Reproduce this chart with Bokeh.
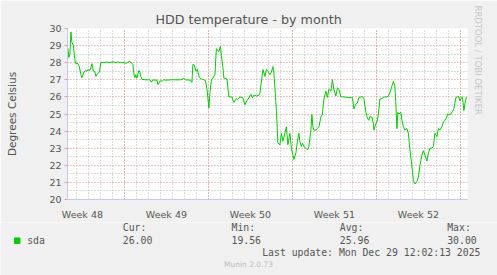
from bokeh.plotting import figure
from bokeh.layouts import column
from bokeh.models import Range1d, FixedTicker, Label, Title
from bokeh.embed import file_html
from bokeh.resources import INLINE

# ---- data: hours relative to Mon 2025-12-01 00:00, temperature in deg C ----
hours = [-113, -111, -109, -107, -105, -102, -100, -98, -93, -90, -87, -85,
         -81, -77, -75, -73, -69, -67, -65, -62, -59, -57, -54, -50, -47,
         -41, -35, -31, -21, -17, -13, -9, 0, 3, 7, 10, 14, 17, 19, 21, 23,
         25, 29, 31, 32, 35, 43, 51, 54, 57, 63, 65, 67, 72, 75, 78, 83, 93,
         103, 113, 119, 122, 132, 135, 137, 140, 143, 146, 150, 154, 159,
         162, 165, 169, 171, 174, 177, 181, 184, 187, 189, 192, 194, 197,
         199, 205, 209, 215, 219, 224, 227, 231, 237, 241, 245, 247, 253,
         256, 259, 264, 269, 271, 277, 281, 284, 287, 291, 294, 297, 299,
         304, 307, 311, 314, 317, 321, 324, 327, 331, 334, 339, 343, 346,
         349, 351, 354, 356, 359, 363, 366, 369, 373, 375, 377, 379, 383,
         386, 389, 393, 396, 399, 403, 406, 409, 413, 416, 419, 423, 426,
         429, 433, 439, 446, 453, 456, 459, 463, 466, 469, 473, 477, 479,
         483, 486, 489, 491, 495, 498, 499, 503, 506, 508, 511, 515, 518,
         521, 525, 528, 531, 535, 538, 541, 543, 545, 547, 549, 553, 555,
         558, 561, 565, 568, 571, 575, 578, 581, 585, 588, 591, 595, 598,
         601, 605, 608, 611, 615, 618, 621, 625, 628, 631, 635, 638, 641,
         645, 646, 649, 653, 656, 659, 663, 666, 669, 671, 674, 676, 678,
         679, 681, 684]
temps = [28.85, 28.3, 28.5, 29.8, 29.2, 29.0, 28.4, 27.97, 27.95, 27.75,
         27.3, 27.12, 27.45, 27.55, 27.5, 27.6, 27.55, 27.7, 27.94, 27.5,
         27.45, 27.2, 27.35, 27.45, 28.02, 28.0, 28.05, 28.0, 28.05, 28.0,
         28.05, 28.0, 28.0, 27.97, 28.03, 28.07, 28.0, 27.9, 27.35, 27.12,
         27.3, 27.1, 27.55, 27.45, 27.3, 27.02, 27.0, 27.0, 26.86, 27.0,
         26.97, 27.0, 26.72, 26.95, 26.9, 27.0, 26.98, 27.0, 27.0, 27.0,
         27.08, 27.0, 26.98, 26.85, 27.9, 27.85, 27.5, 27.6, 27.12, 27.05,
         27.0, 26.95, 26.5, 25.35, 26.2, 27.0, 27.1, 27.3, 28.82, 28.7,
         28.65, 28.95, 28.44, 27.7, 27.1, 27.05, 26.0, 26.0, 25.68, 25.9,
         25.85, 26.0, 25.95, 25.54, 25.8, 25.85, 26.15, 25.95, 26.1, 26.05,
         26.1, 26.2, 27.6, 27.2, 27.6, 27.5, 27.3, 27.45, 27.77, 27.4, 25.2,
         23.3, 23.2, 23.87, 23.4, 23.87, 24.25, 23.2, 23.87, 23.0, 22.34,
         22.72, 23.39, 23.87, 23.39, 23.1, 23.3, 23.1, 23.0, 22.91, 23.1,
         24.06, 24.97, 24.25, 24.06, 24.06, 24.15, 24.25, 24.82, 25.0, 25.87,
         26.34, 25.97, 26.44, 26.34, 27.01, 26.44, 26.06, 26.53, 26.45, 26.0,
         26.0, 25.97, 25.95, 25.97, 25.3, 25.58, 25.65, 25.97, 26.0, 26.0,
         25.9, 25.1, 24.75, 24.63, 24.85, 24.82, 24.44, 24.06, 24.44, 24.63,
         25.0, 25.87, 25.9, 25.97, 26.0, 26.0, 26.06, 26.25, 26.63, 26.91,
         26.63, 25.58, 24.15, 25.1, 25.0, 25.1, 24.63, 24.25, 24.06, 24.15,
         23.87, 22.91, 21.96, 21.1, 20.91, 21.05, 21.3, 21.96, 22.6, 22.85,
         22.6, 22.25, 22.72, 23.0, 23.0, 23.1, 23.87, 23.68, 24.15, 24.06,
         24.25, 24.53, 24.63, 24.82, 25.0, 24.97, 25.0, 25.15, 25.3, 25.97,
         26.0, 26.0, 25.77, 25.95, 26.0, 25.49, 25.2, 25.6, 26.0]

week_label_hours = [-84, 84, 252, 420, 588]
week_labels = ["Week 48", "Week 49", "Week 50", "Week 51", "Week 52"]
week_start_hours = [0, 168, 336, 504, 672]
day_hours = [-96, -72, -48, -24, 0, 24, 48, 72, 96, 120, 144, 168, 192, 216,
             240, 264, 288, 312, 336, 360, 384, 408, 432, 456, 480, 504, 528,
             552, 576, 600, 624, 648, 672]
y_major = [20, 21, 22, 23, 24, 25, 26, 27, 28, 29, 30]
y_minor = [20.5, 21.5, 22.5, 23.5, 24.5, 25.5, 26.5, 27.5, 28.5, 29.5]

series_name = "sda"
series_color = "#00CC00"
stat_names = ["Cur:", "Min:", "Avg:", "Max:"]
stat_values = ["26.00", "19.56", "25.96", "30.00"]
title_text = "HDD temperature - by month"
y_label_text = "Degrees Celsius"
last_update = "Last update: Mon Dec 29 12:02:13 2025"
footer_text = "Munin 2.0.73"
watermark = "RRDTOOL / TOBI OETIKER"

# ---- layout constants (canvas pixels) ----
W, H = 497, 275
FL, FR, FT, FB = 67, 467, 28, 203
H1 = 222                     # height of the chart part
H2 = H - H1                  # height of the legend strip
BG = "#F0F0F0"
TXT = "#555555"
SANS = "DejaVu Sans"
MONO = "DejaVu Sans Mono"

p = figure(width=W, height=H1, output_backend="svg", toolbar_location=None,
           x_range=Range1d(-113.8, 686.2), y_range=Range1d(20, 30),
           min_border_left=FL, min_border_right=W - FR,
           min_border_top=FT, min_border_bottom=H1 - FB)
p.background_fill_color = "white"
p.border_fill_color = BG
p.outline_line_color = None

# title
p.title.text = title_text
p.title.align = "left"
p.title.offset = 88
p.title.standoff = 4
p.title.text_font = SANS
p.title.text_font_size = "12.7px"
p.title.text_font_style = "normal"
p.title.text_color = TXT

# watermark on the right
p.add_layout(Title(text=watermark, align="left", offset=-23,
                   text_font=SANS, text_font_size="8.5px",
                   text_font_style="normal", text_color="#C8C8C8",
                   standoff=11), "right")

# grids
p.xgrid.ticker = FixedTicker(ticks=week_start_hours, minor_ticks=day_hours)
p.ygrid.ticker = FixedTicker(ticks=y_major, minor_ticks=y_minor)
for g in (p.xgrid, p.ygrid):
    g.grid_line_color = "#E09090"
    g.grid_line_dash = "1 2"
    g.minor_grid_line_color = "#B8B8B8"
    g.minor_grid_line_dash = "1 2"

# axes
AX = "#C8C8F4"
p.xaxis.ticker = FixedTicker(ticks=week_label_hours)
p.xaxis.major_label_overrides = {h: lab for h, lab in zip(week_label_hours, week_labels)}
p.xaxis.major_tick_line_color = None
p.xaxis.major_label_standoff = 3
p.yaxis.ticker = FixedTicker(ticks=y_major)
p.yaxis.major_tick_out = 3
p.yaxis.major_tick_in = 0
p.yaxis.major_tick_line_color = "#E6A0A0"
p.yaxis.major_label_standoff = 3
p.yaxis.axis_label = y_label_text
p.yaxis.axis_label_text_font = SANS
p.yaxis.axis_label_text_font_size = "10.5px"
p.yaxis.axis_label_text_font_style = "normal"
p.yaxis.axis_label_text_color = TXT
p.yaxis.axis_label_standoff = 28
for ax in (p.xaxis, p.yaxis):
    ax.axis_line_color = AX
    ax.minor_tick_line_color = None
    ax.major_label_text_font = SANS
    ax.major_label_text_font_size = "9.5px"
    ax.major_label_text_color = TXT

# data line
p.line(hours, temps, line_color=series_color, line_width=1)

# ---- legend strip: its frame is the whole strip, units are pixels, y down ----
q = figure(width=W, height=H2, output_backend="svg", toolbar_location=None,
           x_range=Range1d(0, W), y_range=Range1d(H2, 0),
           x_axis_type=None, y_axis_type=None,
           min_border=0, min_border_left=0, min_border_right=0,
           min_border_top=0, min_border_bottom=0)
q.frame_align = False
q.background_fill_color = BG
q.border_fill_color = BG
q.outline_line_color = None
q.xgrid.visible = False
q.ygrid.visible = False

# legend swatch for the series
q.scatter(x=[16.7], y=[240.2 - H1], marker="square", size=5.5,
          color=series_color)


def lab(text, cx, cy, font=MONO, size="9.8px", color=TXT, align="left"):
    q.add_layout(Label(x=cx, y=cy - H1, text=text, text_font=font,
                       text_font_size=size, text_color=color,
                       text_align=align, text_baseline="middle"))


lab(series_name, 26.7, 239.5)
stat_x = [122.3, 231, 339.3, 446.7]
for name, val, x in zip(stat_names, stat_values, stat_x):
    lab(name, x, 227)
    lab(val, x, 239.5)
lab(last_update, 261.7, 252)
lab(footer_text, 248, 264, font=SANS, size="7.5px", color="#BBBBBB",
    align="center")

layout = column(p, q, spacing=0)
open("out.html", "w").write(file_html(layout, INLINE))
